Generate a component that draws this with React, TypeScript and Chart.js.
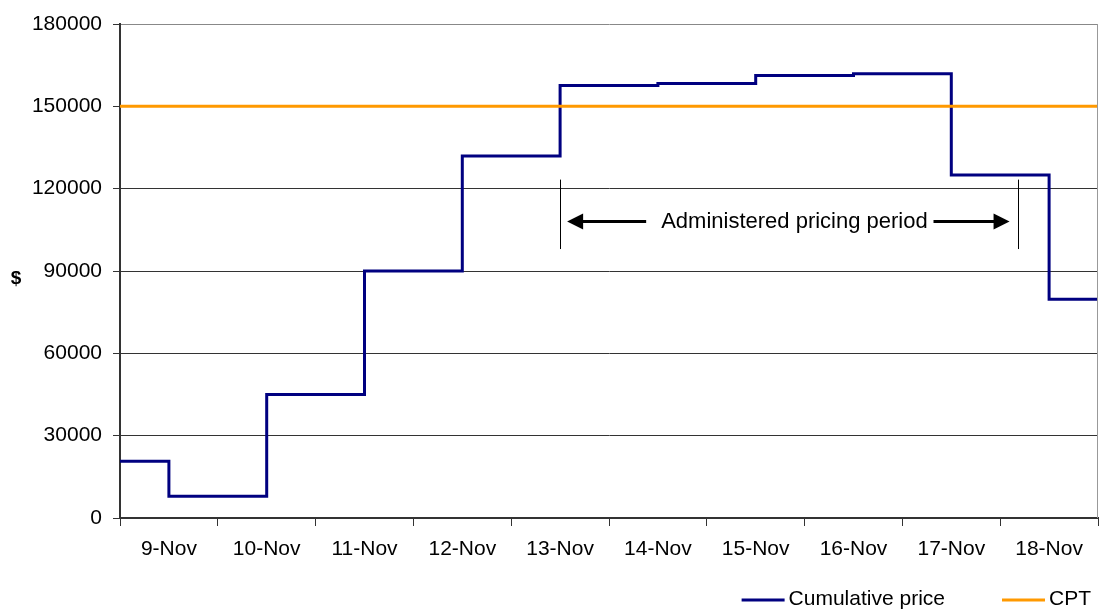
import React, { useEffect, useRef } from 'react';
import { Chart, registerables } from 'chart.js';

Chart.register(...registerables);

// ---- data ----
const categories = ['9-Nov', '10-Nov', '11-Nov', '12-Nov', '13-Nov', '14-Nov', '15-Nov', '16-Nov', '17-Nov', '18-Nov'];
// day offsets (0 = start of 9-Nov) at which the cumulative price changes
const stepDays = [0, 0.5, 1.5, 2.5, 3.5, 4.5, 5.5, 6.5, 7.5, 8.5, 9.5, 10];
const cumulativePrice = [20700, 7900, 45000, 90000, 131900, 157600, 158300, 161200, 161900, 125000, 79700, 79700];
const cptDays = [0, 10];
const cptValues = [150000, 150000];
const yTicks = [0, 30000, 60000, 90000, 120000, 150000, 180000];
const seriesNames = ['Cumulative price', 'CPT'];
const yTitle = '$';

// annotation (in data units)
const annotationText = 'Administered pricing period';
const markerDays = [4.5, 9.18];
const markerRange = [98000, 123300];
const arrowValue = 108000;
const leftArrowDays = [5.38, 4.572]; // tail, tip
const rightArrowDays = [8.318, 9.096]; // tail, tip
const textDay = 6.896;

const FONT = '"Liberation Sans", Arial, Helvetica, sans-serif';
const BLUE = '#000080';
const ORANGE = '#FF9900';
const FS = 21;

function drawArrow(ctx: CanvasRenderingContext2D, xTail: number, xTip: number, y: number) {
  const dir = xTip > xTail ? 1 : -1;
  const headLen = 16;
  const headHalf = 8;
  ctx.beginPath();
  ctx.lineWidth = 3;
  ctx.moveTo(xTail, y);
  ctx.lineTo(xTip - dir * (headLen - 2), y);
  ctx.stroke();
  ctx.beginPath();
  ctx.moveTo(xTip, y);
  ctx.lineTo(xTip - dir * headLen, y - headHalf);
  ctx.lineTo(xTip - dir * headLen, y + headHalf);
  ctx.closePath();
  ctx.fill();
}

const extrasPlugin = {
  id: 'extras',
  afterDraw(chart: any) {
    const ctx: CanvasRenderingContext2D = chart.ctx;
    const xs = chart.scales.xl;
    const ys = chart.scales.y;
    const { top, bottom, right } = chart.chartArea;
    ctx.save();

    // right plot border
    ctx.strokeStyle = '#999999';
    ctx.lineWidth = 1;
    ctx.beginPath();
    ctx.moveTo(Math.round(right) - 0.5, top);
    ctx.lineTo(Math.round(right) - 0.5, bottom);
    ctx.stroke();

    // annotation markers
    ctx.strokeStyle = '#000';
    ctx.fillStyle = '#000';
    ctx.lineWidth = 1;
    markerDays.forEach((d) => {
      const x = Math.round(xs.getPixelForValue(d)) + 0.5;
      ctx.beginPath();
      ctx.moveTo(x, ys.getPixelForValue(markerRange[1]));
      ctx.lineTo(x, ys.getPixelForValue(markerRange[0]));
      ctx.stroke();
    });
    const ay = ys.getPixelForValue(arrowValue);
    drawArrow(ctx, xs.getPixelForValue(leftArrowDays[0]), xs.getPixelForValue(leftArrowDays[1]), ay);
    drawArrow(ctx, xs.getPixelForValue(rightArrowDays[0]), xs.getPixelForValue(rightArrowDays[1]), ay);
    ctx.font = `22px ${FONT}`;
    ctx.textAlign = 'center';
    ctx.textBaseline = 'middle';
    ctx.fillText(annotationText, xs.getPixelForValue(textDay), ay);

    // y title
    ctx.font = `bold 19px ${FONT}`;
    ctx.fillText(yTitle, 16, (top + bottom) / 2 + 8);

    // legend (bottom right)
    ctx.font = `${FS}px ${FONT}`;
    ctx.textAlign = 'left';
    const lineLen = 43;
    const gapText = 4;
    const gapItems = 57;
    const ly = 600;
    const colors = [BLUE, ORANGE];
    const widths = seriesNames.map((n) => ctx.measureText(n).width);
    let x = 1091;
    const starts: number[] = [];
    for (let i = seriesNames.length - 1; i >= 0; i--) {
      const textX = x - widths[i];
      const lineStart = textX - gapText - lineLen;
      starts[i] = lineStart;
      x = lineStart - gapItems;
    }
    seriesNames.forEach((n, i) => {
      ctx.strokeStyle = colors[i];
      ctx.lineWidth = 3;
      ctx.beginPath();
      ctx.moveTo(starts[i], ly);
      ctx.lineTo(starts[i] + lineLen, ly);
      ctx.stroke();
      ctx.fillStyle = '#000';
      ctx.fillText(n, starts[i] + lineLen + gapText, ly - 1);
    });

    ctx.restore();
  },
};

export default function App() {
  const ref = useRef<HTMLCanvasElement | null>(null);

  useEffect(() => {
    document.body.style.margin = '0';
    const canvas = ref.current;
    if (!canvas) return;
    Chart.defaults.font.family = FONT;
    const chart = new Chart(canvas, {
      type: 'line',
      data: {
        datasets: [
          {
            label: seriesNames[0],
            data: stepDays.map((d, i) => ({ x: d, y: cumulativePrice[i] })),
            xAxisID: 'xl',
            yAxisID: 'y',
            borderColor: BLUE,
            backgroundColor: BLUE,
            borderWidth: 3,
            pointRadius: 0,
            stepped: true,
            order: 1,
          },
          {
            label: seriesNames[1],
            data: cptDays.map((d, i) => ({ x: d, y: cptValues[i] })),
            xAxisID: 'xl',
            yAxisID: 'y',
            borderColor: ORANGE,
            backgroundColor: ORANGE,
            borderWidth: 3,
            pointRadius: 0,
            order: 0,
          },
        ],
      },
      options: {
        responsive: false,
        animation: false,
        devicePixelRatio: 1,
        layout: { padding: { top: 24, right: 4, left: 0, bottom: 52 } },
        plugins: {
          legend: { display: false },
          tooltip: { enabled: false },
          title: { display: false },
        },
        scales: {
          x: {
            type: 'category',
            labels: categories,
            position: 'bottom',
            offset: true,
            grid: { offset: true, drawOnChartArea: false, tickLength: 8, color: '#333333', lineWidth: 1 },
            border: { color: '#333333', width: 2 },
            ticks: { color: '#000', font: { size: FS }, padding: 11, maxRotation: 0, autoSkip: false },
            afterFit: (s: any) => {
              s.height = 40;
            },
          },
          xl: { type: 'linear', display: false, min: 0, max: 10 },
          y: {
            type: 'linear',
            min: 0,
            max: 180000,
            afterBuildTicks: (s: any) => {
              s.ticks = yTicks.map((v) => ({ value: v }));
            },
            ticks: {
              color: '#000',
              font: { size: FS },
              padding: 11,
              callback: (v: any) => String(v),
            },
            grid: {
              color: (c: any) => (c.tick && c.tick.value === 180000 ? '#888888' : '#333333'),
              tickColor: '#333333',
              tickLength: 7,
              lineWidth: 1,
            },
            border: { color: '#333333', width: 2 },
            afterFit: (s: any) => {
              s.width = 120;
            },
          },
        },
      },
      plugins: [extrasPlugin],
    });
    return () => chart.destroy();
  }, []);

  return (
    <div style={{ width: 1102, height: 610, position: 'relative', background: '#fff' }}>
      <canvas ref={ref} width={1102} height={610} style={{ display: 'block' }} />
    </div>
  );
}
